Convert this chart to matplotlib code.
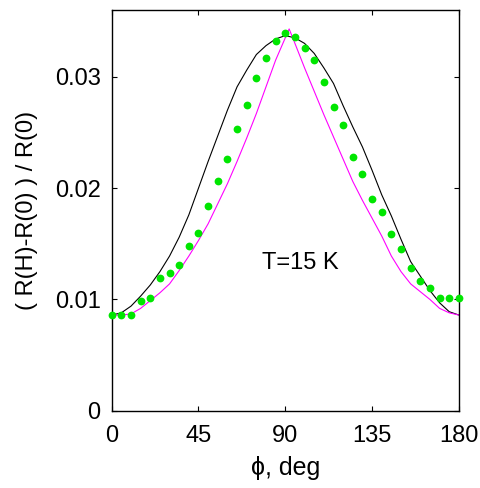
import matplotlib
matplotlib.use("Agg")
import matplotlib.pyplot as plt
import numpy as np

plt.rcParams['font.family'] = ['Liberation Sans', 'DejaVu Sans']

# measured points (green dots), every 5 deg
phi_meas = list(range(0, 181, 5))
dr_meas = [0.0086, 0.0086, 0.0086, 0.0099, 0.0101, 0.0119, 0.0124, 0.0131, 0.0148,
           0.0160, 0.0184, 0.0206, 0.0226, 0.0253, 0.0275, 0.0299, 0.0317, 0.0332,
           0.0339, 0.0336, 0.0326, 0.0315, 0.0295, 0.0273, 0.0257, 0.0228, 0.0213,
           0.0190, 0.0179, 0.0159, 0.0145, 0.0128, 0.0117, 0.0110, 0.0101, 0.0101,
           0.0101]

# model curve 1 (black)
phi_black = list(range(0, 181, 5))
dr_black = [0.0086, 0.0088, 0.0094, 0.0103, 0.0113, 0.0125, 0.0139, 0.0156, 0.0176,
            0.0200, 0.0224, 0.0247, 0.0270, 0.0291, 0.0306, 0.0320, 0.0328, 0.0334,
            0.0337, 0.0335, 0.0330, 0.0321, 0.0308, 0.0294, 0.0274, 0.0255, 0.0237,
            0.0216, 0.0194, 0.0175, 0.0154, 0.0134, 0.0121, 0.0108, 0.0097, 0.0089,
            0.0086]

# model curve 2 (magenta)
phi_mag = [0, 5, 10, 15, 20, 25, 30, 35, 40, 45, 50, 55, 60, 65, 70, 75, 80, 85, 90,
           92, 95, 100, 105, 110, 115, 120, 125, 130, 135, 140, 145, 150, 155, 160,
           165, 170, 175, 180]
dr_mag = [0.0086, 0.0086, 0.0087, 0.0092, 0.0099, 0.0106, 0.0114, 0.0126, 0.0139,
          0.0153, 0.0168, 0.0186, 0.0204, 0.0224, 0.0245, 0.0267, 0.0291, 0.0315,
          0.0335, 0.0343, 0.0330, 0.0308, 0.0287, 0.0266, 0.0246, 0.0226, 0.0206,
          0.0189, 0.0173, 0.0157, 0.0139, 0.0125, 0.0114, 0.0107, 0.0100, 0.0092,
          0.0088, 0.0086]

xticks = [0, 45, 90, 135, 180]
yticks = [0, 0.01, 0.02, 0.03]
ytick_labels = ["0", "0.01", "0.02", "0.03"]

fig = plt.figure(figsize=(4.8, 4.88), dpi=100)
ax = fig.add_axes([0.2327, 0.1582, 0.7233, 0.8213])

ax.plot(phi_black, dr_black, color='black', lw=0.8)
ax.plot(phi_mag, dr_mag, color='#ff00ff', lw=0.8)
ax.plot(phi_meas, dr_meas, 'o', color='#00e600', markersize=5.6,
        markeredgewidth=0, clip_on=False, zorder=3)

ax.text(97.7, 0.0133, "T=15 K", fontsize=17, ha='center', va='center')

ax.set_xlim(0, 180)
ax.set_ylim(0, 0.036)
ax.set_xticks(xticks)
ax.set_yticks(yticks)
ax.set_yticklabels(ytick_labels)
ax.tick_params(direction='in', length=3.5, width=0.8, labelsize=17,
               top=True, right=True, pad=8)
ax.tick_params(axis='x', pad=10)
for s in ax.spines.values():
    s.set_linewidth(1.0)

ax.set_xlabel("ϕ, deg", fontsize=18, labelpad=7)
ax.set_ylabel("( R(H)-R(0) ) / R(0)", fontsize=17, labelpad=12)

fig.savefig("out.png", dpi=100)
